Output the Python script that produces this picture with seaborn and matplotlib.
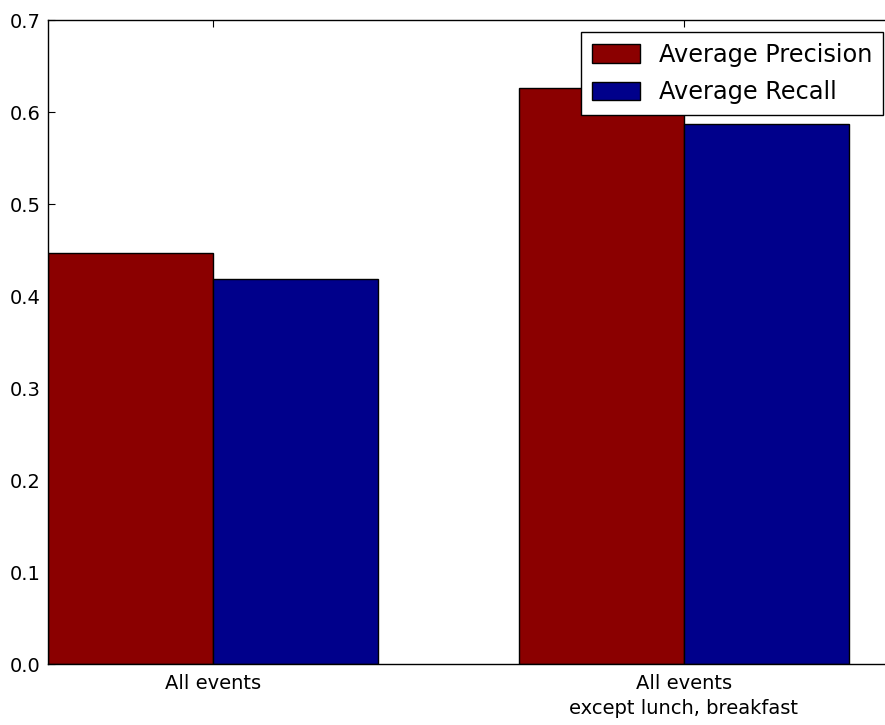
import matplotlib
matplotlib.use("Agg")
import matplotlib.pyplot as plt
import seaborn as sns
import pandas as pd

# Event subsets and their averaged scores
categories = ["All events", "All events\nexcept lunch, breakfast"]
precision = [0.447, 0.626]
recall = [0.419, 0.587]
metrics = ["Average Precision", "Average Recall"]

df = pd.DataFrame({
    "subset": categories * 2,
    "metric": [metrics[0]] * len(categories) + [metrics[1]] * len(categories),
    "score": precision + recall,
})

sns.set_theme(style="white", rc={
    "xtick.direction": "in",
    "ytick.direction": "in",
    "xtick.top": True,
    "ytick.right": True,
    "xtick.bottom": True,
    "ytick.left": True,
    "xtick.major.size": 5,
    "ytick.major.size": 5,
    "xtick.major.width": 0.8,
    "ytick.major.width": 0.8,
    "axes.edgecolor": "black",
    "axes.linewidth": 1.0,
    "text.color": "black",
})
plt.rcParams["font.family"] = ["DejaVu Sans"]

fig = plt.figure(figsize=(8.85, 7.25), dpi=100)
ax = fig.add_axes([48 / 885, 61 / 725, (895 - 48) / 885, (664 - 20) / 725])

sns.barplot(
    data=df, x="subset", y="score", hue="metric",
    palette=["#8b0000", "#00008b"], width=0.7,
    edgecolor="black", linewidth=1.0, saturation=1, ax=ax,
)

ax.set_xlim(-0.35, 1.448)
ax.set_ylim(0, 0.7)
ax.set_yticks([0.0, 0.1, 0.2, 0.3, 0.4, 0.5, 0.6, 0.7])
ax.set_yticklabels([f"{v:.1f}" for v in ax.get_yticks()])
ax.set_xlabel("")
ax.set_ylabel("")
ax.tick_params(axis="both", labelsize=14, colors="black")
ax.tick_params(axis="x", pad=7)
ax.tick_params(axis="y", pad=5.5)
for lbl in ax.get_xticklabels():
    lbl.set_linespacing(1.4)

leg = ax.legend(loc="upper right", fontsize=17.3, frameon=True, fancybox=False,
                borderaxespad=0.5, handlelength=2.0, handleheight=0.8,
                borderpad=0.45, labelspacing=0.55, handletextpad=0.8)
leg.get_frame().set_edgecolor("black")
leg.get_frame().set_linewidth(1.0)
leg.get_frame().set_alpha(1)
for t in leg.get_texts():
    t.set_color("black")

fig.savefig("out.png", dpi=100)
